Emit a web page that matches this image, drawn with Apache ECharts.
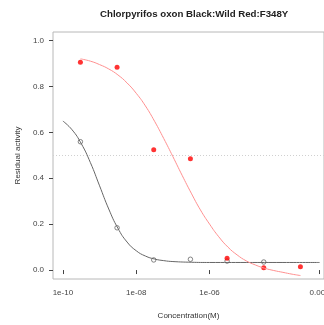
<!DOCTYPE html>
<html><head><meta charset="utf-8">
<script src="https://cdn.jsdelivr.net/npm/echarts@6/dist/echarts.min.js"></script>
<style>html,body{margin:0;padding:0;background:#fff}#c{width:324px;height:325px}</style>
</head><body><div id="c"></div>
<script>
// Measured residual activity at each inhibitor concentration (M)
const wildConc = [3e-10, 3e-9, 3e-8, 3e-7, 3e-6, 3e-5];
const wildActivity = [0.559, 0.184, 0.044, 0.047, 0.039, 0.035];
const mutantConc = [3e-10, 3e-9, 3e-8, 3e-7, 3e-6, 3e-5, 3e-4];
const mutantActivity = [0.905, 0.883, 0.524, 0.485, 0.051, 0.010, 0.014];

// Fitted dose-response curves, sampled at log10(concentration)
const wildFitLog = [-10, -9.75, -9.5, -9.25, -9, -8.75, -8.5, -8.25, -8, -7.75, -7.5, -7.25, -7, -6.5, -6, -5, -4, -3];
const wildFitValue = [0.649, 0.611, 0.551, 0.468, 0.367, 0.266, 0.182, 0.122, 0.084, 0.061, 0.048, 0.041, 0.037, 0.034, 0.033, 0.033, 0.033, 0.033];
const mutantFitLog = [-9.52, -9.25, -9, -8.75, -8.5, -8.25, -8, -7.75, -7.5, -7.25, -7, -6.75, -6.5, -6.25, -6, -5.75, -5.5, -5.25, -5, -4.75, -4.5, -4.25, -4, -3.75, -3.52];
const mutantFitValue = [0.920, 0.910, 0.895, 0.876, 0.850, 0.815, 0.770, 0.715, 0.648, 0.573, 0.494, 0.413, 0.335, 0.262, 0.200, 0.145, 0.100, 0.066, 0.040, 0.022, 0.008, -0.002, -0.010, -0.018, -0.024];

// Axis ticks
const xTickValues = [1e-10, 1e-8, 1e-6, 1e-3];
const xTickLabels = ['1e-10', '1e-08', '1e-06', '0.001'];
const yTickValues = [0, 0.2, 0.4, 0.6, 0.8, 1.0];

const pairs = (xs, ys) => xs.map((x, i) => [x, ys[i]]);
const fitPairs = (ls, ys) => ls.map((l, i) => [Math.pow(10, l), ys[i]]);

const font = 'Liberation Sans, Arial, sans-serif';
const chart = echarts.init(document.getElementById('c'), null, {renderer: 'canvas'});
chart.setOption({
  animation: false,
  title: {
    text: 'Chlorpyrifos oxon Black:Wild Red:F348Y',
    left: 95, top: 4,
    textStyle: {fontFamily: font, fontSize: 9.7, fontWeight: 'bold', color: '#222'}
  },
  grid: {
    left: 53, top: 32, width: 271, height: 247,
    outerBoundsMode: 'none', containLabel: false,
    show: true, borderColor: '#b8b8b8', borderWidth: 1
  },
  xAxis: {
    type: 'log', logBase: 10,
    min: Math.pow(10, -10.27), max: Math.pow(10, -2.88),
    name: 'Concentration(M)', nameLocation: 'middle', nameGap: 33,
    nameTextStyle: {fontFamily: font, fontSize: 8, color: '#333'},
    axisLine: {show: false},
    splitLine: {show: false},
    axisTick: {show: true, length: 4, customValues: xTickValues, lineStyle: {color: '#444'}},
    axisLabel: {
      customValues: xTickValues, margin: 10, hideOverlap: false,
      fontFamily: font, fontSize: 8, color: '#444',
      formatter: v => {
        const i = xTickValues.findIndex(t => Math.abs(Math.log10(t) - Math.log10(v)) < 1e-6);
        return i >= 0 ? xTickLabels[i] : '';
      }
    }
  },
  yAxis: {
    type: 'value', min: -0.039, max: 1.037,
    name: 'Residual activity', nameLocation: 'middle', nameGap: 25, nameRotate: 90,
    nameTextStyle: {fontFamily: font, fontSize: 8, color: '#333'},
    axisLine: {show: false},
    splitLine: {show: false},
    axisTick: {show: true, length: 4, customValues: yTickValues, lineStyle: {color: '#444'}},
    axisLabel: {
      customValues: yTickValues, margin: 9,
      fontFamily: font, fontSize: 8, color: '#444',
      formatter: v => v.toFixed(1)
    }
  },
  series: [
    {
      type: 'line', name: 'Wild fit', data: fitPairs(wildFitLog, wildFitValue),
      smooth: true, showSymbol: false, silent: true,
      lineStyle: {color: '#666', width: 1},
      markLine: {
        silent: true, symbol: ['none', 'none'], label: {show: false},
        lineStyle: {color: '#d0d0d0', type: [1, 2], width: 1},
        data: [{yAxis: 0.5}]
      }
    },
    {
      type: 'line', name: 'F348Y fit', data: fitPairs(mutantFitLog, mutantFitValue),
      smooth: true, showSymbol: false, silent: true,
      lineStyle: {color: '#ff9090', width: 1}
    },
    {
      type: 'scatter', name: 'Wild', data: pairs(wildConc, wildActivity),
      symbol: 'circle', symbolSize: 4.5,
      itemStyle: {color: '#fff', borderColor: '#666', borderWidth: 1}
    },
    {
      type: 'scatter', name: 'F348Y', data: pairs(mutantConc, mutantActivity),
      symbol: 'circle', symbolSize: 5,
      itemStyle: {color: '#ff0000'}
    }
  ]
});
</script>
</body></html>
